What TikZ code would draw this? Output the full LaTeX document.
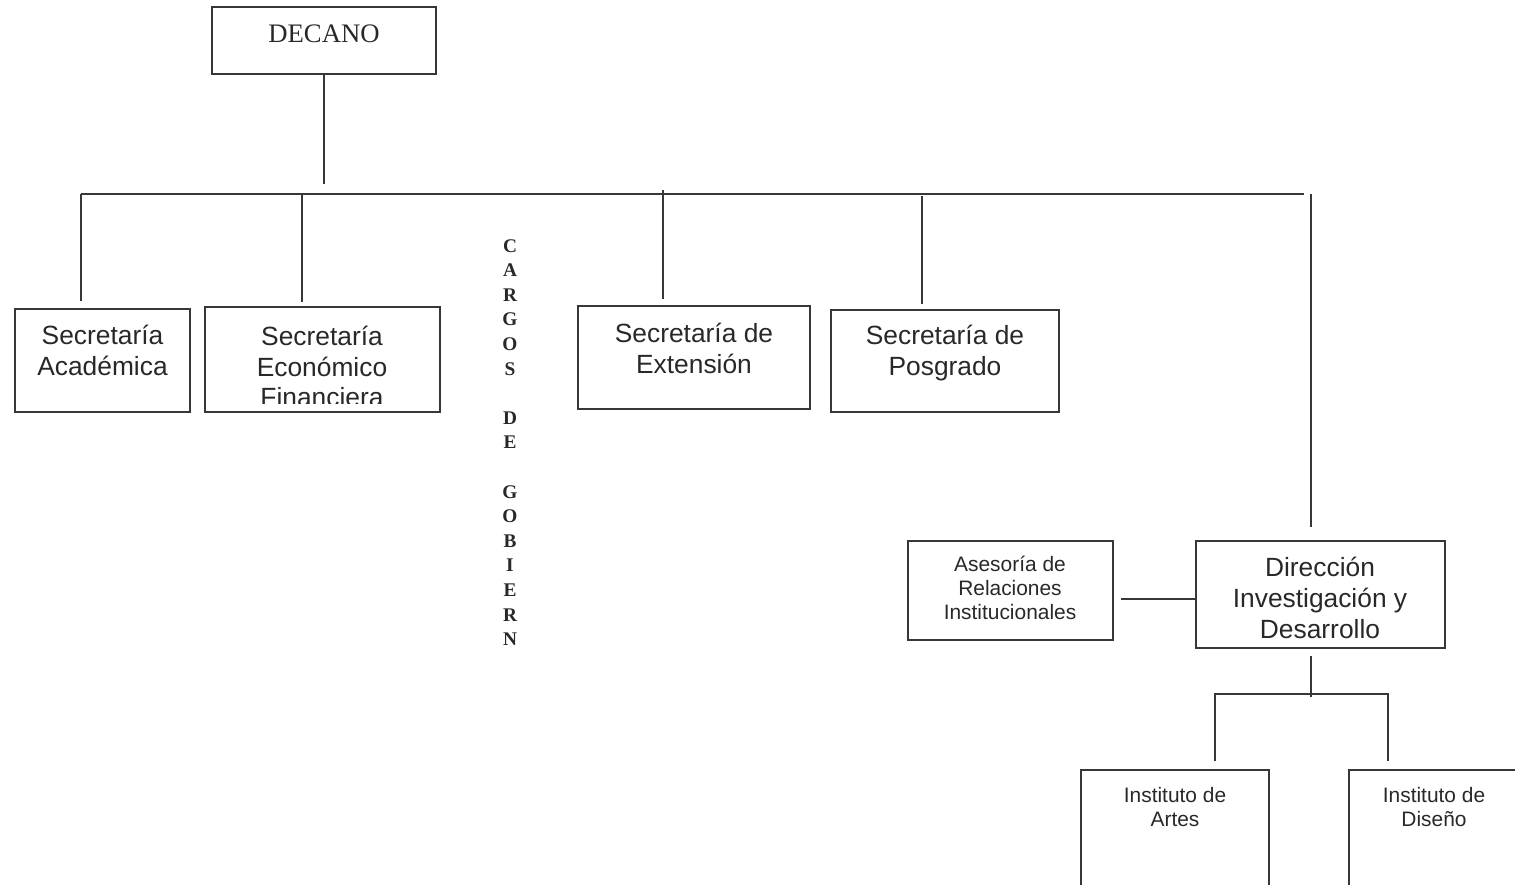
\documentclass[tikz,border=0pt]{standalone}
\usepackage{fontspec}
\setmainfont{Liberation Serif}
\setsansfont{Liberation Sans}
\usetikzlibrary{positioning,calc}
\definecolor{orgline}{RGB}{55,55,55}
\definecolor{orgtext}{RGB}{40,40,40}
\tikzset{
    org box/.style={
        rectangle,
        draw=orgline,
        line width=1pt,
        fill=none,
        inner sep=0pt,
        minimum width=#1,
    },
    org text/.style={
        text=orgtext,
        align=center,
        inner sep=0pt,
        font=\sffamily\fontsize{15}{17.6}\selectfont
    },
    org small/.style={
        org text,
        font=\sffamily\fontsize{11.9}{13.6}\selectfont
    },
    org link/.style={draw=orgline, line width=1pt}
}

\begin{document}
\begin{tikzpicture}[x=0.02cm,y=-0.02cm]
    \useasboundingbox (0,0) rectangle (1515,885);

    %boxes (px coords of the scan, y downwards)
    \node[org box=4.48cm, minimum height=1.34cm] (decano) at (324,40.5) {};
    \node[org box=3.5cm,  minimum height=2.06cm] (acad) at (102.5,360.5) {};
    \node[org box=4.7cm,  minimum height=2.1cm]  (econ) at (322.5,359.5) {};
    \node[org box=4.64cm, minimum height=2.06cm] (ext) at (694,357.5) {};
    \node[org box=4.56cm, minimum height=2.04cm] (posg) at (945,361) {};
    \node[org box=4.98cm, minimum height=2.14cm] (dir) at (1320.5,594.5) {};
    \node[org box=4.1cm,  minimum height=1.98cm] (ases) at (1010.5,590.5) {};
    \node[org box=3.76cm, minimum height=2.6cm]  (artes) at (1175,835) {};
    \node[org box=3.92cm, minimum height=2.6cm]  (dis) at (1447,835) {};

    %texts, set at the top of the boxes
    \node[org text, font=\rmfamily\fontsize{15.2}{17}\selectfont] (decano-t) at (324,34) {DECANO};
    \node[org text] (acad-t) at (102.5,350) {Secretaría\\Académica};
    \begin{scope}
        \clip (econ.north west) rectangle ($(econ.south east)+(0,-9)$);
        \node[org text] (econ-t) at (322,366.5) {Secretaría\\Económico\\Financiera};
    \end{scope}
    \node[org text] (ext-t) at (694,348.5) {Secretaría de\\Extensión};
    \node[org text] (posg-t) at (945,353) {Secretaría de\\Posgrado};
    \node[org text] (dir-t) at (1320,598) {Dirección\\Investigación y\\Desarrollo};
    \node[org small] (ases-t) at (1010,588) {Asesoría de\\Relaciones\\Institucionales};
    \node[org small] (artes-t) at (1175,807) {Instituto de\\Artes};
    \node[org small] (dis-t) at (1434,807) {Instituto de\\Diseño};

    \node[text=orgtext, align=center, inner sep=0pt,
          font=\rmfamily\bfseries\fontsize{11}{14}\selectfont] (cargos) at (510,442.5)
        {C\\A\\R\\G\\O\\S\\[14pt]D\\E\\[14pt]G\\O\\B\\I\\E\\R\\N};

    %bus under the dean
    \coordinate (bus-w) at (81,194);
    \coordinate (bus-e) at (1304,194);
    \draw[org link] (bus-w) -- (bus-e);
    \draw[org link] (decano.south) -- ($(decano.south)+(0,109)$);

    \draw[org link] (bus-w) -- ($(bus-w |- acad.north)+(0,-7)$);
    \draw[org link] (302,194) -- ($(302,0 |- econ.north)+(0,-4)$);
    \draw[org link] (663,190) -- ($(663,0 |- ext.north)+(0,-6)$);
    \draw[org link] (922,196) -- ($(922,0 |- posg.north)+(0,-5)$);
    \draw[org link] (1311,194) -- ($(1311,0 |- dir.north)+(0,-13)$);

    %advisor
    \coordinate (link-y) at (0,599);
    \draw[org link] ($(ases.east |- link-y)+(7,0)$) -- (dir.west |- link-y);

    %institutes
    \coordinate (fork) at (1311,694);
    \coordinate (artes-in) at ($(1215,0 |- artes.north)+(0,-8)$);
    \coordinate (dis-in) at ($(1388,0 |- dis.north)+(0,-8)$);
    \draw[org link] ($(fork |- dir.south)+(0,7)$) -- ($(fork)+(0,3)$);
    \draw[org link] (artes-in) |- (fork) -| (dis-in);
\end{tikzpicture}
\end{document}
